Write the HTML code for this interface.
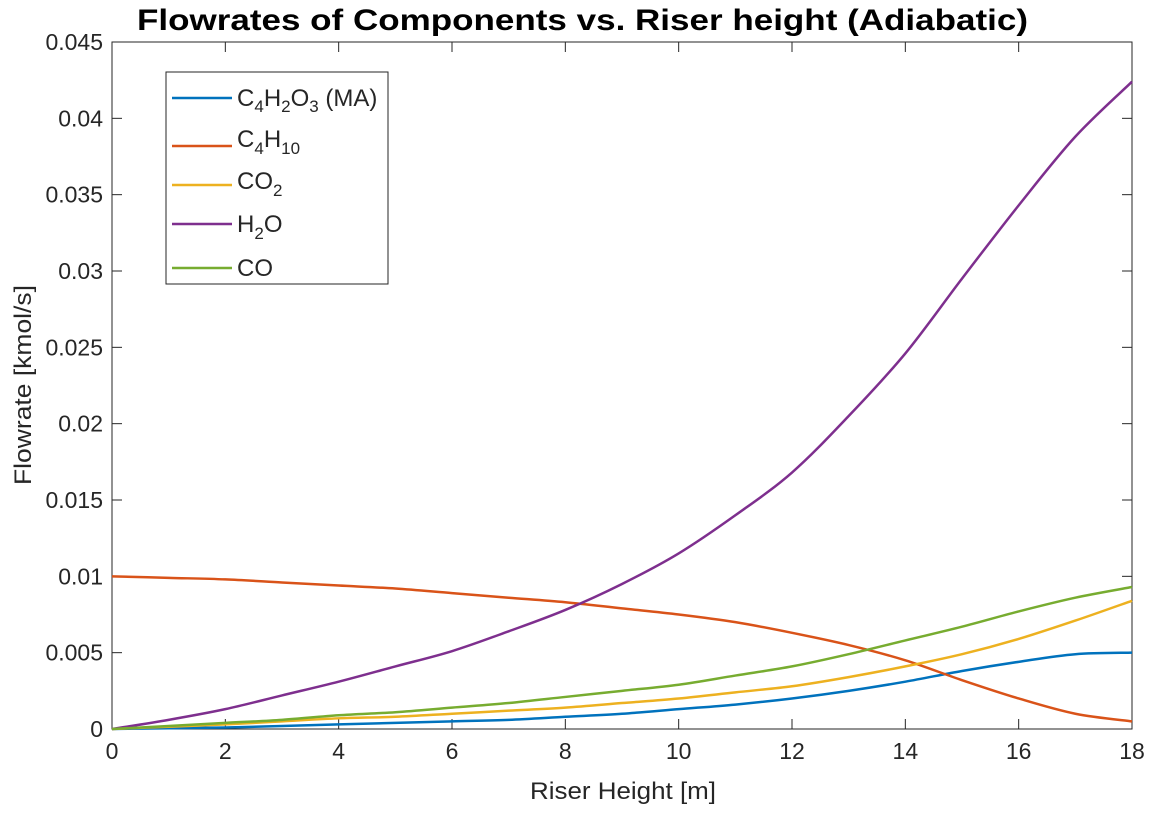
<!DOCTYPE html>
<html><head><meta charset="utf-8"><style>
body{margin:0;background:#fff;}
svg text{font-family:"Liberation Sans",Arial,sans-serif;fill:#262626;}
</style></head><body>
<svg id="chart" width="1156" height="811" viewBox="0 0 1156 811">
<rect x="0" y="0" width="1156" height="811" fill="#fff"/>
<text x="137" y="30" font-size="30" font-weight="bold" textLength="891" lengthAdjust="spacingAndGlyphs" style="fill:#000">Flowrates of Components vs. Riser height (Adiabatic)</text>
<rect x="112" y="42" width="1020" height="687" fill="#fff" stroke="#262626" stroke-width="1"/>
<g id="ticks"></g>
<g id="series"></g>
<text x="530" y="799" font-size="24" textLength="186" lengthAdjust="spacingAndGlyphs">Riser Height [m]</text>
<text transform="translate(31,485) rotate(-90)" font-size="24" textLength="200" lengthAdjust="spacingAndGlyphs">Flowrate [kmol/s]</text>
<g>
<rect x="166" y="72" width="222" height="212" fill="#fff" stroke="#262626" stroke-width="1"/>
<line x1="172" y1="98" x2="232" y2="98" stroke="#0072BD" stroke-width="2.5"/>
<text x="237" y="106" font-size="24">C<tspan font-size="17" dy="6">4</tspan><tspan dy="-6">H</tspan><tspan font-size="17" dy="6">2</tspan><tspan dy="-6">O</tspan><tspan font-size="17" dy="6">3</tspan><tspan dy="-6"> (MA)</tspan></text>
<line x1="172" y1="146" x2="232" y2="146" stroke="#D95319" stroke-width="2.5"/>
<text x="237" y="147" font-size="24">C<tspan font-size="17" dy="7">4</tspan><tspan dy="-7">H</tspan><tspan font-size="17" dy="7">10</tspan></text>
<line x1="172" y1="185" x2="232" y2="185" stroke="#EDB120" stroke-width="2.5"/>
<text x="237" y="189" font-size="24">CO<tspan font-size="17" dy="7">2</tspan></text>
<line x1="172" y1="224" x2="232" y2="224" stroke="#7E2F8E" stroke-width="2.5"/>
<text x="237" y="232" font-size="24">H<tspan font-size="17" dy="7">2</tspan><tspan dy="-7">O</tspan></text>
<line x1="172" y1="268" x2="232" y2="268" stroke="#77AC30" stroke-width="2.5"/>
<text x="237" y="276" font-size="24">CO</text>
</g>
</svg>
<script>
const heights=[0,1,2,3,4,5,6,7,8,9,10,11,12,13,14,15,16,17,18];
const ma=[0,0.00005,0.0001,0.0002,0.0003,0.0004,0.0005,0.0006,0.0008,0.001,0.0013,0.0016,0.002,0.0025,0.0031,0.0038,0.0044,0.0049,0.005];
const c4h10=[0.01,0.0099,0.0098,0.0096,0.0094,0.0092,0.0089,0.0086,0.0083,0.0079,0.0075,0.0070,0.0063,0.0055,0.0045,0.0032,0.002,0.001,0.0005];
const co2=[0,0.00015,0.0003,0.0005,0.0007,0.0008,0.001,0.0012,0.0014,0.0017,0.002,0.0024,0.0028,0.0034,0.0041,0.0049,0.0059,0.0071,0.0084];
const h2o=[0,0.0006,0.0013,0.0022,0.0031,0.0041,0.0051,0.0064,0.0078,0.0095,0.0115,0.014,0.0168,0.0205,0.0246,0.0295,0.0343,0.0388,0.0424];
const co=[0,0.0002,0.0004,0.0006,0.0009,0.0011,0.0014,0.0017,0.0021,0.0025,0.0029,0.0035,0.0041,0.0049,0.0058,0.0067,0.0077,0.0086,0.0093];
const xTicks=[0,2,4,6,8,10,12,14,16,18];
const yTicks=[0,0.005,0.01,0.015,0.02,0.025,0.03,0.035,0.04,0.045];
const yTickLabels=["0","0.005","0.01","0.015","0.02","0.025","0.03","0.035","0.04","0.045"];
const X0=112,X1=1132,Y0=729,Y1=42;
const xs=v=>X0+(v-0)/18*(X1-X0);
const ys=v=>Y0-(v/0.045)*(Y0-Y1);
const NS="http://www.w3.org/2000/svg";
const tg=document.getElementById('ticks');
function mk(tag,attrs,parent){const e=document.createElementNS(NS,tag);for(const k in attrs)e.setAttribute(k,attrs[k]);parent.appendChild(e);return e;}
xTicks.forEach(t=>{
  const x=xs(t);
  mk('line',{x1:x,y1:Y0,x2:x,y2:Y0-10,stroke:'#262626'},tg);
  mk('line',{x1:x,y1:Y1,x2:x,y2:Y1+10,stroke:'#262626'},tg);
  const tx=mk('text',{x:x,y:Y0+30,'text-anchor':'middle','font-size':23},tg);
  tx.textContent=String(t);
  
  
});
yTicks.forEach((t,i)=>{
  const y=ys(t);
  mk('line',{x1:X0,y1:y,x2:X0+10,y2:y,stroke:'#262626'},tg);
  mk('line',{x1:X1,y1:y,x2:X1-10,y2:y,stroke:'#262626'},tg);
  const tx=mk('text',{x:X0-9,y:y+8,'text-anchor':'end','font-size':23},tg);
  tx.textContent=yTickLabels[i];
  
  
});
const sg=document.getElementById('series');
[[ma,'#0072BD','series-ma'],[c4h10,'#D95319','series-c4h10'],[co2,'#EDB120','series-co2'],[h2o,'#7E2F8E','series-h2o'],[co,'#77AC30','series-co']].forEach(([d,c,n])=>{
  const pts=heights.map((h,i)=>[xs(h),ys(d[i])]);
  let p='M'+pts[0][0]+','+pts[0][1];
  for(let i=0;i<pts.length-1;i++){
    const p0=pts[Math.max(i-1,0)],p1=pts[i],p2=pts[i+1],p3=pts[Math.min(i+2,pts.length-1)];
    p+=' C'+(p1[0]+(p2[0]-p0[0])/6)+','+(p1[1]+(p2[1]-p0[1])/6)+' '+(p2[0]-(p3[0]-p1[0])/6)+','+(p2[1]-(p3[1]-p1[1])/6)+' '+p2[0]+','+p2[1];
  }
  const path=mk('path',{d:p,fill:'none',stroke:c,'stroke-width':2.5},sg);
  
  
});
</script>
</body></html>
